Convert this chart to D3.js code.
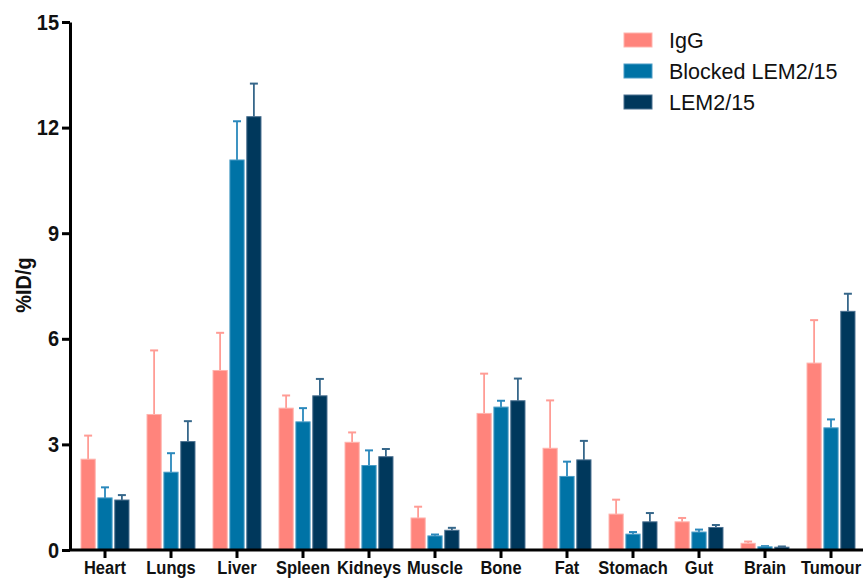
<!DOCTYPE html>
<html>
<head>
<meta charset="utf-8">
<script src="https://cdn.jsdelivr.net/npm/d3@7"></script>
<style>
  html, body { margin: 0; padding: 0; background: #fff; }
  svg { display: block; }
  text { font-family: "Liberation Sans", Arial, Helvetica, sans-serif; }
</style>
</head>
<body>
<svg id="chart" width="863" height="579"></svg>
<script>
// Biodistribution, %ID/g per organ (mean and upper SD)
const organs = ["Heart", "Lungs", "Liver", "Spleen", "Kidneys", "Muscle", "Bone", "Fat", "Stomach", "Gut", "Brain", "Tumour"];
const seriesNames = ["IgG", "Blocked LEM2/15", "LEM2/15"];

const iggMean     = [2.58, 3.85, 5.10, 4.03, 3.06, 0.91, 3.88, 2.89, 1.02, 0.80, 0.19, 5.31];
const iggSd       = [0.67, 1.82, 1.07, 0.36, 0.28, 0.32, 1.13, 1.36, 0.41, 0.11, 0.05, 1.22];
const blockedMean = [1.48, 2.21, 11.08, 3.64, 2.40, 0.40, 4.06, 2.09, 0.45, 0.51, 0.09, 3.47];
const blockedSd   = [0.30, 0.54, 1.10, 0.39, 0.43, 0.04, 0.18, 0.42, 0.06, 0.07, 0.02, 0.24];
const lemMean     = [1.42, 3.08, 12.31, 4.38, 2.65, 0.56, 4.24, 2.56, 0.80, 0.64, 0.08, 6.78];
const lemSd       = [0.14, 0.58, 0.94, 0.48, 0.22, 0.07, 0.63, 0.54, 0.25, 0.07, 0.02, 0.50];

const yTicks = [0, 3, 6, 9, 12, 15];

const fills   = ["#FF847C", "#0073A6", "#00385C"];
const edges   = ["#FFB3AD", "#4A9CC6", "#4A7090"];
const errCols = ["#FF9C95", "#2A88BC", "#36678A"];

const means = [iggMean, blockedMean, lemMean];
const sds = [iggSd, blockedSd, lemSd];

// Labels are drawn slightly taller than wide
const stretch = 1.12;

const svg = d3.select("#chart");

const x0 = d3.scaleBand()
  .domain(organs)
  .range([72, 864])
  .paddingInner(0.258)
  .paddingOuter(0.129);

const x1 = d3.scaleBand()
  .domain(d3.range(seriesNames.length))
  .range([0, x0.bandwidth()])
  .paddingInner(0.1);

const y = d3.scaleLinear().domain([0, 15]).range([550, 22]);

// Bars with upward error bars
const groups = svg.append("g")
  .selectAll("g")
  .data(organs)
  .join("g")
  .attr("transform", d => `translate(${x0(d)},0)`);

const cells = groups.selectAll("g.cell")
  .data((d, i) => seriesNames.map((s, k) => ({ k, mean: means[k][i], sd: sds[k][i] })))
  .join("g")
  .attr("class", "cell");

const capW = 8;
cells.append("line")
  .attr("x1", d => x1(d.k) + x1.bandwidth() / 2)
  .attr("x2", d => x1(d.k) + x1.bandwidth() / 2)
  .attr("y1", d => y(d.mean))
  .attr("y2", d => y(d.mean + d.sd))
  .attr("stroke", d => errCols[d.k])
  .attr("stroke-width", 1.8);

cells.append("line")
  .attr("x1", d => x1(d.k) + x1.bandwidth() / 2 - capW / 2)
  .attr("x2", d => x1(d.k) + x1.bandwidth() / 2 + capW / 2)
  .attr("y1", d => y(d.mean + d.sd))
  .attr("y2", d => y(d.mean + d.sd))
  .attr("stroke", d => errCols[d.k])
  .attr("stroke-width", 2);

cells.append("rect")
  .attr("x", d => x1(d.k) + 0.5)
  .attr("y", d => y(d.mean))
  .attr("width", x1.bandwidth() - 1)
  .attr("height", d => y(0) - y(d.mean))
  .attr("fill", d => fills[d.k])
  .attr("stroke", d => edges[d.k])
  .attr("stroke-width", 1);

// Y axis
const yAxis = svg.append("g")
  .attr("transform", "translate(70,0)")
  .call(d3.axisLeft(y).tickValues(yTicks).tickSize(8).tickPadding(3).tickSizeOuter(0));
yAxis.select(".domain").attr("stroke", "#000").attr("stroke-width", 3);
yAxis.selectAll(".tick line").attr("stroke", "#000").attr("stroke-width", 3);
yAxis.selectAll(".tick text")
  .attr("fill", "#111")
  .attr("transform", `scale(1,${stretch})`)
  .style("font-size", "20px")
  .style("font-weight", "bold")
  .style("font-family", "Liberation Sans, Arial, sans-serif");

// X axis
const xAxis = svg.append("g")
  .attr("transform", "translate(0,550)")
  .call(d3.axisBottom(x0).tickSize(8).tickPadding(6).tickSizeOuter(0));
xAxis.select(".domain").attr("d", "M70,0H863").attr("stroke", "#000").attr("stroke-width", 3);
xAxis.selectAll(".tick line").attr("stroke", "#000").attr("stroke-width", 3);
xAxis.selectAll(".tick text")
  .attr("fill", "#111")
  .attr("y", 24 / stretch)
  .attr("dy", null)
  .attr("transform", `scale(1,${stretch})`)
  .style("font-size", "16.5px")
  .style("font-weight", "bold")
  .style("font-family", "Liberation Sans, Arial, sans-serif");

// Y axis title
svg.append("text")
  .attr("transform", `translate(31,285) rotate(-90) scale(1.05,${stretch})`)
  .attr("text-anchor", "middle")
  .attr("fill", "#111")
  .style("font-size", "19px")
  .style("font-weight", "bold")
  .text("%ID/g");

// Legend
const legend = svg.append("g")
  .selectAll("g")
  .data(seriesNames)
  .join("g")
  .attr("transform", (d, i) => `translate(624,${40 + i * 31})`);

legend.append("rect")
  .attr("x", 0).attr("y", -7)
  .attr("width", 28).attr("height", 14)
  .attr("fill", (d, i) => fills[i])
  .attr("stroke", (d, i) => edges[i])
  .attr("stroke-width", 1);

legend.append("text")
  .attr("x", 45).attr("y", 8)
  .attr("fill", "#111")
  .style("font-size", "21.5px")
  .text(d => d);
</script>
</body>
</html>
